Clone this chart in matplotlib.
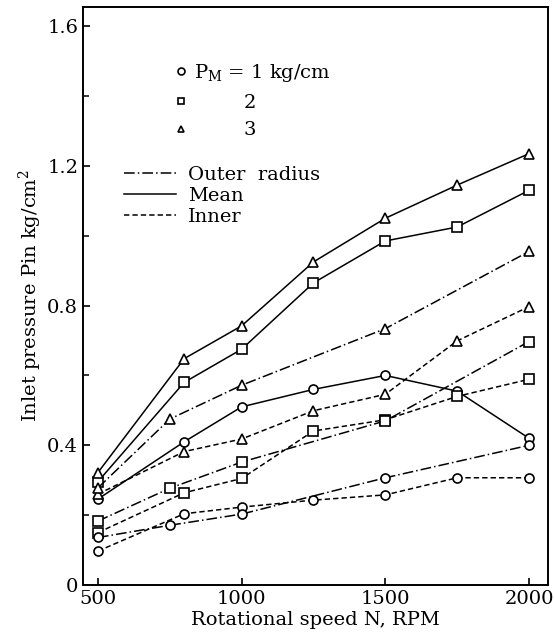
import matplotlib
matplotlib.use('Agg')
import matplotlib.pyplot as plt
from matplotlib.lines import Line2D
from matplotlib.ticker import MultipleLocator

plt.rcParams['font.family'] = 'DejaVu Serif'
plt.rcParams['mathtext.fontset'] = 'dejavuserif'

# speeds, RPM
rpm = [500, 800, 1000, 1250, 1500, 1750, 2000]
rpm_outer = [500, 750, 1000, 1500, 2000]

# mean radius (solid)
mean_p1 = [0.246, 0.41, 0.51, 0.56, 0.60, 0.555, 0.42]
mean_p2 = [0.296, 0.58, 0.675, 0.865, 0.985, 1.025, 1.13]
mean_p3 = [0.322, 0.648, 0.742, 0.925, 1.05, 1.145, 1.235]

# inner radius (dashed)
inner_p1 = [0.097, 0.204, 0.223, 0.243, 0.258, 0.307, 0.307]
inner_p2 = [0.15, 0.264, 0.305, 0.441, 0.473, 0.54, 0.589]
inner_p3 = [0.26, 0.382, 0.418, 0.499, 0.546, 0.699, 0.797]

# outer radius (dash-dot)
outer_p1 = [0.136, 0.171, 0.203, 0.307, 0.40]
outer_p2 = [0.183, 0.277, 0.352, 0.47, 0.697]
outer_p3 = [0.278, 0.475, 0.572, 0.734, 0.955]

markers = ['o', 's', '^']
dashdot = (0, (7, 2, 1, 2))
dashed = (0, (3.5, 2))

fig = plt.figure(figsize=(5.54, 6.43), dpi=100)
ax = fig.add_axes([0.1498, 0.0902, 0.8394, 0.8990])

mk = dict(color='black', lw=1.1, markersize=6.5, markerfacecolor='white',
          markeredgewidth=1.2)

for m, y in zip(markers, [mean_p1, mean_p2, mean_p3]):
    ax.plot(rpm, y, marker=m, linestyle='-', **mk)
for m, y in zip(markers, [inner_p1, inner_p2, inner_p3]):
    ax.plot(rpm, y, marker=m, linestyle=dashed, **mk)
for m, y in zip(markers, [outer_p1, outer_p2, outer_p3]):
    ax.plot(rpm_outer, y, marker=m, linestyle=dashdot, **mk)

ax.set_xlim(448, 2066)
ax.set_ylim(0, 1.655)
ax.set_xticks([500, 1000, 1500, 2000])
ax.set_yticks([0, 0.4, 0.8, 1.2, 1.6])
ax.set_yticklabels(['0', '0.4', '0.8', '1.2', '1.6'])
ax.yaxis.set_minor_locator(MultipleLocator(0.2))
ax.tick_params(direction='in', labelsize=14, length=5, width=1.2)
ax.tick_params(which='minor', direction='in', length=4, width=1.1)
for s in ax.spines.values():
    s.set_linewidth(1.4)

ax.set_xlabel('Rotational speed N, RPM', fontsize=14, labelpad=2)
ax.set_ylabel('Inlet pressure Pin kg/cm$^2$', fontsize=14, labelpad=2)

# legends
h1 = [Line2D([], [], marker=m, linestyle='none', color='black',
             markerfacecolor='white', markersize=5, markeredgewidth=1.2)
      for m in markers]
leg1 = ax.legend(h1, ['P$_\\mathregular{M}$ = 1 kg/cm', '        2', '        3'],
                 loc='upper left', bbox_to_anchor=(0.16, 0.935), frameon=False,
                 fontsize=14, handlelength=0.6, handletextpad=0.4,
                 labelspacing=0.5)
ax.add_artist(leg1)

h2 = [Line2D([], [], color='black', lw=1.1, linestyle=ls)
      for ls in [dashdot, '-', dashed]]
ax.legend(h2, ['Outer  radius', 'Mean', 'Inner'], loc='upper left',
          bbox_to_anchor=(0.05, 0.755), frameon=False, fontsize=14,
          handlelength=2.7, handletextpad=0.6, labelspacing=0.15)

fig.savefig('out.png', dpi=100)
